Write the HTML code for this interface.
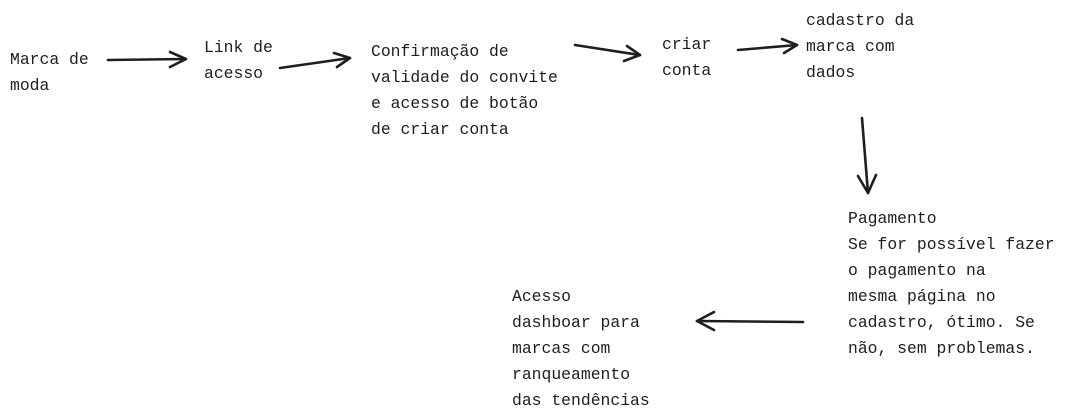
<!DOCTYPE html>
<html><head><meta charset="utf-8"><style>
html,body{margin:0;padding:0;background:#fff;}
body{width:1073px;height:417px;position:relative;overflow:hidden;font-family:"Liberation Mono",monospace;font-size:16.4px;color:#1e1e1e;}
.t{position:absolute;line-height:26px;white-space:pre;}
svg{position:absolute;left:0;top:0;}
</style></head><body>
<svg width="1073" height="417" viewBox="0 0 1073 417" fill="none" stroke="#1e1e1e" stroke-width="2.6" stroke-linecap="round" stroke-linejoin="round">
<path d="M108 60 L185 59"/><path d="M170 52 L186 59 L170 67"/>
<path d="M280 68 L350 58"/><path d="M334 53 L350 58 L337 67"/>
<path d="M575 45 L640 55"/><path d="M627 46 L640 55 L624 61"/>
<path d="M738 50 L797 45"/><path d="M782 39 L797 45 L784 53"/>
<path d="M862 118 L868 193"/><path d="M858 176 L868 193 L876 175"/>
<path d="M803 322 L697 321"/><path d="M714 312 L697 321 L714 330"/>
</svg>
<div class="t" style="left:10px;top:47px">Marca de
moda</div>
<div class="t" style="left:204px;top:35px">Link de
acesso</div>
<div class="t" style="left:371px;top:39px">Confirmação de
validade do convite
e acesso de botão
de criar conta</div>
<div class="t" style="left:662px;top:32px">criar
conta</div>
<div class="t" style="left:806px;top:8px">cadastro da
marca com
dados</div>
<div class="t" style="left:848px;top:206px">Pagamento
Se for possível fazer
o pagamento na
mesma página no
cadastro, ótimo. Se
não, sem problemas.</div>
<div class="t" style="left:512px;top:284px">Acesso
dashboar para
marcas com
ranqueamento
das tendências</div>
</body></html>
